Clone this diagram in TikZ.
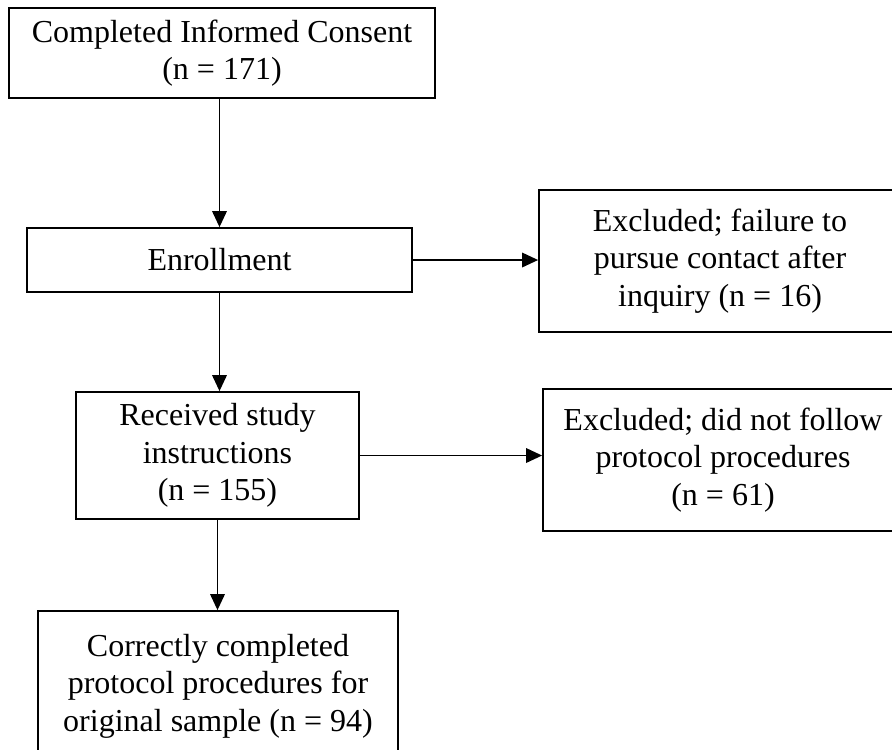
\documentclass[tikz,border=0pt]{standalone}
\usepackage{fontspec}
\setmainfont{Liberation Serif}
\usepackage{tikz}
\usetikzlibrary{arrows.meta,positioning}

\begin{document}
\begin{tikzpicture}[
    x=0.4pt, y=-0.4pt,
    >={Triangle[length=6.4pt,width=5.8pt]},
    flowbox/.style={rectangle, draw, line width=0.7pt, align=center, inner sep=2pt,
        font=\fontsize{12.8}{15}\selectfont},
    flowarrow/.style={->, line width=0.7pt}
]
    \clip (0,0) rectangle (892,749);

    \node[flowbox, minimum width=170.4pt, minimum height=36pt] (consent) at (222,53)
        {Completed Informed Consent\\(n = 171)};
    \node[flowbox, minimum width=154pt, minimum height=25.6pt] (enroll) at (219.5,260)
        {Enrollment};
    \node[flowbox, minimum width=144.8pt, minimum height=56.8pt] (excl1) at (720,261)
        {Excluded; failure to\\pursue contact after\\inquiry (n = 16)};
    \node[flowbox, minimum width=113.2pt, minimum height=50.8pt] (instr) at (217.5,455.5)
        {Received study\\instructions\\(n = 155)};
    \node[flowbox, minimum width=144pt, minimum height=56.8pt] (excl2) at (723,460)
        {Excluded; did not follow\\protocol procedures\\(n = 61)};
    \node[flowbox, minimum width=144pt, minimum height=60pt] (final) at (218,686)
        {Correctly completed\\protocol procedures for\\original sample (n = 94)};

    \draw[flowarrow] (enroll.north |- consent.south) -- (enroll.north);
    \draw[flowarrow] (enroll.south) -- (enroll.south |- instr.north);
    \draw[flowarrow] (instr.south) -- (instr.south |- final.north);
    \draw[flowarrow] (enroll.east) -- (enroll.east -| excl1.west);
    \draw[flowarrow] (instr.east) -- (instr.east -| excl2.west);
\end{tikzpicture}
\end{document}
